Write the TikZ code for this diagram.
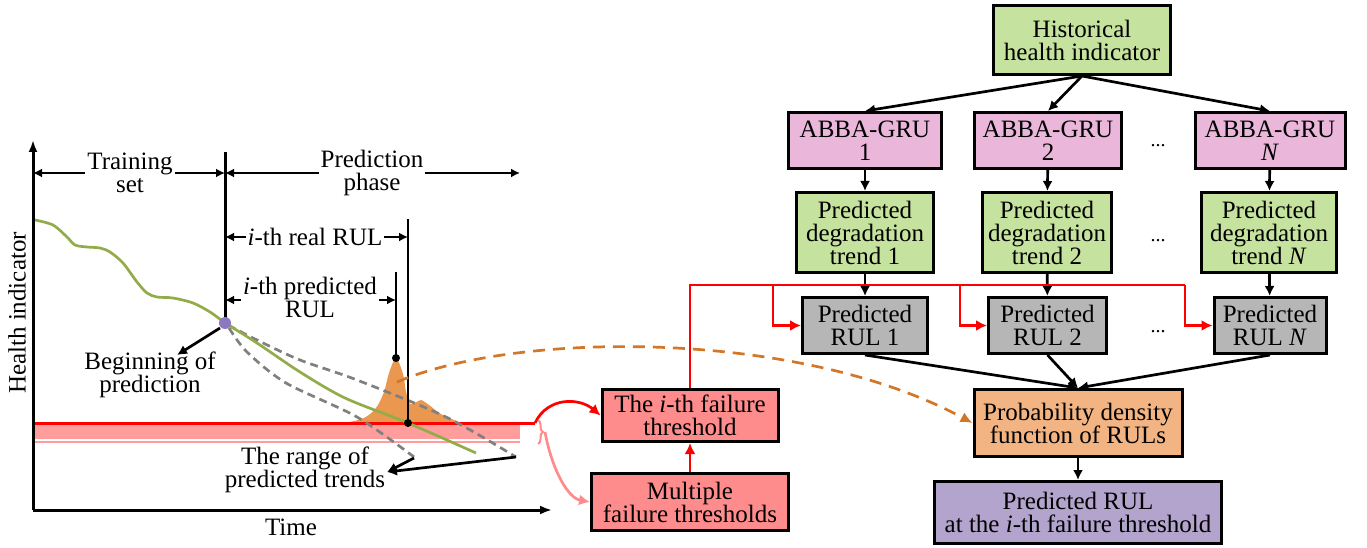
\documentclass[tikz,border=0pt]{standalone}
\usepackage{fontspec}
\setmainfont{Liberation Serif}
\usetikzlibrary{arrows.meta,decorations.pathreplacing}

\definecolor{boxgreen}{RGB}{197,226,158}
\definecolor{boxpink}{RGB}{234,182,218}
\definecolor{boxgray}{RGB}{182,182,182}
\definecolor{boxorange}{RGB}{242,180,130}
\definecolor{boxpurple}{RGB}{178,164,204}
\definecolor{boxred}{RGB}{255,140,140}
\definecolor{trendgreen}{RGB}{145,172,72}
\definecolor{pdforange}{RGB}{232,140,60}
\definecolor{dashorange}{RGB}{212,118,40}
\definecolor{lightred}{RGB}{255,140,140}
\definecolor{dotpurple}{RGB}{140,120,190}

\begin{document}
\begin{tikzpicture}[x=1pt,y=-1pt,font=\fontsize{25}{23}\selectfont,
  box/.style={draw,line width=3pt,inner sep=0pt,align=center},
  arr/.style={line width=2.7pt,-{Latex[length=10pt,width=10pt]}},
  dimarr/.style={line width=2.4pt,{Latex[length=9pt,width=9pt]}-{Latex[length=9pt,width=9pt]}},
  redarr/.style={red,line width=2.7pt,-{Latex[length=11pt,width=11pt]}},
  trend/.style={gray,line width=2.7pt,dash pattern=on 8pt off 5pt}]

  \useasboundingbox (0,0) rectangle (1367,548);

  \coordinate (o) at (33,510);
  \coordinate (bp) at (225,323);
  \coordinate (eol) at (408,423);
  \coordinate (pk) at (396,358);
  \coordinate (thend) at (535,423);
  \coordinate (begtip) at (177,355);
  \coordinate (rngtip) at (387,472);

  % threshold band
  \fill[lightred!85] (33,423) rectangle (520,443);
  \draw[white,line width=1.5pt] (33,440) -- (520,440);

  % pdf of RULs
  \fill[pdforange,opacity=.9] plot[smooth,tension=.5] coordinates {(345,423) (364,418) (376,408) (384,392)
    (389,373) (396,358) (403,374) (406,392) (410,404) (415,403) (421,400) (429,405) (441,414) (461,423)} -- cycle;

  \draw[red,line width=3pt] (33,423) -- (thend);

  % trends
  \draw[trend] plot[smooth] coordinates {(228,325) (257,340) (300,360) (357,380) (446,417) (516,457)};
  \draw[trend] plot[smooth] coordinates {(229,328) (247,352) (286,383) (357,417) (414,457)};
  \begin{scope}[trendgreen,line width=2.7pt]
    \draw plot[smooth] coordinates {(35,220) (53,225) (67,237) (75,245) (87,247) (100,248) (110,252)
      (123,263) (137,282) (147,293) (157,297) (173,298) (193,303) (210,312) (bp)};
    \draw plot[smooth] coordinates {(bp) (257,343) (300,372) (345,398) (eol) (476,453)};
  \end{scope}

  % axes
  \draw[line width=3pt,-{Latex[length=12pt,width=9pt]}] (o) -- (33,140);
  \draw[line width=3pt,-{Latex[length=12pt,width=9pt]}] (o) -- (552,510);
  \node[rotate=90] (hilab) at (17,313) {Health indicator};
  \node (timelab) at (291,527) {Time};

  \draw[line width=3pt] (225,152) -- (bp);
  \draw[line width=2.2pt] (408,219) -- (eol);
  \draw[line width=2.2pt] (396,272) -- (pk);
  \fill[dotpurple] (bp) circle (6);
  \fill (eol) circle (4);
  \fill (pk) circle (4);

  \draw[dimarr] (33,173) -- (225,173);
  \draw[dimarr] (225,173) -- (520,173);
  \draw[dimarr] (225,237) -- (408,237);
  \draw[dimarr] (225,300) -- (396,300);
  \begin{scope}[fill=white,inner sep=2pt,align=center]
    \node[fill] (train) at (130,173) {Training\\set};
    \node[fill] (phase) at (372,173) {Prediction\\phase};
    \node[fill] (realrul) at (315,237) {\textit{i}-th real RUL};
    \node[fill] (predrul) at (310,297) {\textit{i}-th predicted\\RUL};
  \end{scope}

  \node[align=center] (beg) at (150,375) {Beginning of\\prediction};
  \draw[arr] (220,328) -- (begtip);
  \node[align=center] (range) at (305,470) {The range of\\predicted trends};
  \draw[arr] (414,458) -- (rngtip);
  \draw[arr] (516,457) -- (rngtip);

  % failure thresholds
  \node[box,fill=boxred,minimum width=176,minimum height=52] (thr) at (690,415.5) {The \textit{i}-th failure\\threshold};
  \node[box,fill=boxred,minimum width=197,minimum height=57] (mult) at (690,502) {Multiple\\failure thresholds};
  \draw[redarr] (thend) .. controls (548,396) and (580,398) .. (thr.west);
  \draw[lightred,line width=2pt,decorate,decoration={brace,amplitude=5pt}] (538,420) -- (538,444);
  \draw[lightred,line width=2.7pt,-{Latex[length=11pt,width=11pt]}] (545,432) .. controls (552,470) and (568,498) .. (mult.west);
  \draw[redarr] (mult) -- (thr);

  % flowchart
  \node[box,fill=boxgreen,minimum width=177,minimum height=69] (hist) at (1082,40) {Historical\\health indicator};
  \node[box,fill=boxpink,minimum width=153,minimum height=56] (gru1) at (865,140.5) {ABBA-GRU\\1};
  \node[box,fill=boxpink,minimum width=147,minimum height=56] (gru2) at (1048,140.5) {ABBA-GRU\\2};
  \node[box,fill=boxpink,minimum width=150,minimum height=56] (gruN) at (1270,140.5) {ABBA-GRU\\\textit{N}};
  \node[box,fill=boxgreen,minimum width=137,minimum height=80] (tr1) at (865,232.5) {Predicted\\degradation\\trend 1};
  \node[box,fill=boxgreen,minimum width=129,minimum height=80] (tr2) at (1047,232.5) {Predicted\\degradation\\trend 2};
  \node[box,fill=boxgreen,minimum width=135,minimum height=80] (trN) at (1269,232.5) {Predicted\\degradation\\trend \textit{N}};
  \node[box,fill=boxgray,minimum width=125,minimum height=56] (rul1) at (865,325.5) {Predicted\\RUL 1};
  \node[box,fill=boxgray,minimum width=118,minimum height=56] (rul2) at (1047.5,325.5) {Predicted\\RUL 2};
  \node[box,fill=boxgray,minimum width=112,minimum height=56] (rulN) at (1270,325.5) {Predicted\\RUL \textit{N}};
  \node[box,fill=boxorange,minimum width=208,minimum height=67] (pdf) at (1078,423) {Probability density\\function of RULs};
  \node[box,fill=boxpurple,minimum width=287,minimum height=62] (res) at (1078,512.5) {Predicted RUL\\at the \textit{i}-th failure threshold};

  \foreach \y/\n in {146/dga,241/dgb,332/dgc}
    \node[font=\fontsize{20}{20}\selectfont] (\n) at (1158,\y) {...};

  \foreach \g in {gru1,gru2,gruN}
    \draw[arr] (hist.south) -- (\g.north);
  \foreach \a/\b in {gru1/tr1,gru2/tr2,gruN/trN,tr1/rul1,tr2/rul2,trN/rulN}
    \draw[arr] (\a) -- (\b);
  \foreach \r in {rul1,rul2,rulN}
    \draw[arr] (\r.south) -- (pdf.north);
  \draw[arr] (pdf) -- (res);

  % thresholds to RULs
  \draw[red,line width=2.7pt] (thr.north) |- (1185,285);
  \foreach \r/\x in {rul1/773,rul2/960,rulN/1185}
    \draw[redarr] (\x,285) |- (\r.west);

  \draw[dashorange,line width=2.7pt,dash pattern=on 12pt off 8pt,-{Latex[length=12pt,width=11pt]}]
    (397,382) .. controls (520,330) and (800,330) .. (pdf.west);
\end{tikzpicture}
\end{document}
